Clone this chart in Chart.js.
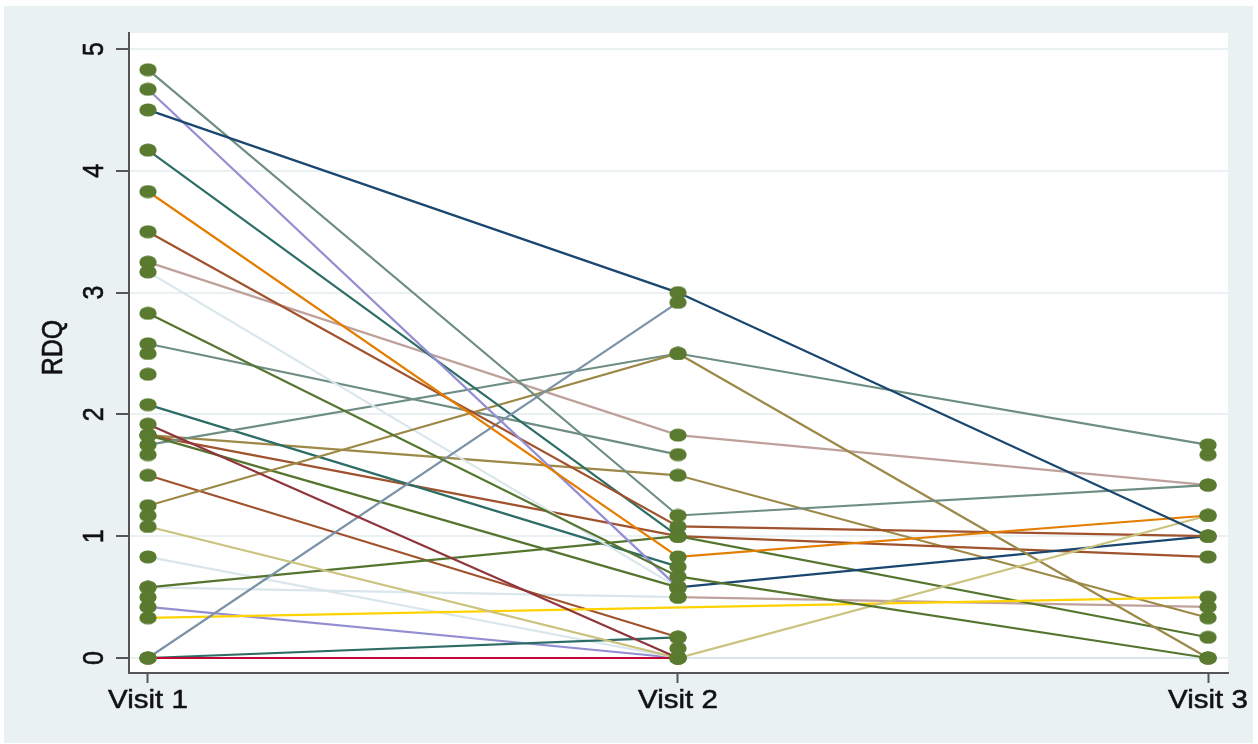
<!DOCTYPE html>
<html>
<head>
<meta charset="utf-8">
<title>RDQ by visit</title>
<script src="https://cdn.jsdelivr.net/npm/chart.js@4.4.1/dist/chart.umd.min.js"></script>
<style>
  html, body { margin: 0; padding: 0; background: #ffffff; }
  canvas { display: block; }
</style>
</head>
<body>
<canvas id="rdq" width="1258" height="744"></canvas>
<script>
// Axis text
const visitLabels = ['Visit 1', 'Visit 2', 'Visit 3'];
const yTickValues = [0, 1, 2, 3, 4, 5];
const yTitle = 'RDQ';

// RDQ score per participant at each visit (null = not recorded)
const visit1 = [4.50, 1.92, 2.83, 3.83, 4.83, 0.00, 4.67, 1.08, 3.50, 0.00, 4.17, 1.25, 3.25, 0.33, 3.17,
                null, 2.50, 0.58, 1.83, 2.58, 1.75, 2.08, 0.00, 1.83, 1.50, 1.83, 0.83, 0.58, 0.42, null,
                2.33, 1.67, 1.17, 0.50, null, null];
const visit2 = [3.00, 0.00, 0.67, 0.83, 1.17, 0.00, 0.58, 0.00, 1.08, 2.92, 1.00, 2.50, 1.83, null, 0.58,
                0.58, null, 1.00, 0.58, 1.67, 2.50, 0.75, 0.17, 1.00, 0.17, 1.50, 0.00, 0.50, 0.00, 0.50,
                null, null, null, null, 0.08, null];
const visit3 = [1.00, null, 0.00, 1.17, 1.42, null, null, 1.17, 1.00, null, null, 0.00, 1.42, 0.50, null,
                1.00, null, 0.17, null, null, 1.75, null, null, 0.83, null, 0.33, 0.00, null, null, 0.42,
                null, null, null, null, null, 1.67];

// Line colour of each participant
const lineColors = ['#1a476f', '#90353b', '#55752f', '#e37e00', '#6e8e84', '#c10534', '#938dd2', '#cac27e',
                    '#a0522d', '#7b92a8', '#2d6d66', '#9c8847', '#bfa19c', '#ffd200', '#d9e6eb',
                    '#1a476f', '#90353b', '#55752f', '#55752f', '#6e8e84', '#6e8e84', '#2d6d66', '#2d6d66',
                    '#a0522d', '#a0522d', '#9c8847', '#d9e6eb', '#d9e6eb', '#938dd2', '#bfa19c',
                    '#90353b', '#55752f', '#e37e00', '#6e8e84', '#c10534', '#938dd2'];

const visitColumns = [visit1, visit2, visit3];

// Marker: a filled green ellipse
const marker = document.createElement('canvas');
marker.width = 18; marker.height = 14;
(function () {
  const m = marker.getContext('2d');
  m.fillStyle = '#5a7a30';
  m.beginPath();
  m.ellipse(9, 7, 8.7, 6.6, 0, 0, Math.PI * 2);
  m.fill();
})();

// One line per participant
const lineSets = visit1.map((_, i) => ({
  type: 'line',
  data: visitColumns.map((col, k) => ({ x: k + 1, y: col[i] })),
  borderColor: lineColors[i],
  borderWidth: 2.2,
  pointRadius: 0,
  tension: 0,
  spanGaps: true,
  fill: false,
  order: 1
}));

// Every observed value as a marker, drawn above the lines
const markerPoints = [];
visitColumns.forEach((col, k) => col.forEach(v => { if (v !== null) markerPoints.push({ x: k + 1, y: v }); }));
const markerSet = {
  type: 'line',
  data: markerPoints,
  showLine: false,
  pointStyle: marker,
  pointRadius: 8,
  order: 0
};

const frame = {
  id: 'frame',
  beforeDraw(chart) {
    const ctx = chart.ctx, a = chart.chartArea;
    ctx.save();
    ctx.fillStyle = '#ffffff';
    ctx.fillRect(0, 0, chart.width, chart.height);
    ctx.fillStyle = '#eaf1f3';
    ctx.fillRect(4, 6, chart.width - 9, chart.height - 7);
    ctx.fillStyle = '#ffffff';
    ctx.fillRect(a.left, a.top, a.right - a.left, a.bottom - a.top);
    ctx.restore();
  }
};

const axisText = {
  id: 'axisText',
  afterDraw(chart) {
    const ctx = chart.ctx, xs = chart.scales.x, ys = chart.scales.y;
    const stretch = 1.18, cap = 18;
    ctx.save();
    ctx.fillStyle = '#111111';
    ctx.strokeStyle = '#111111';
    ctx.lineWidth = 0.5;
    ctx.font = '25px "Liberation Sans", Arial, sans-serif';
    ctx.textAlign = 'center';
    ctx.textBaseline = 'alphabetic';
    const put = (text, x, y) => { ctx.fillText(text, x, y); ctx.strokeText(text, x, y); };
    ys.ticks.forEach(t => {
      ctx.save();
      ctx.translate(ys.right - 36.5, ys.getPixelForValue(t.value));
      ctx.scale(stretch, 1);
      ctx.rotate(-Math.PI / 2);
      put(String(t.value), 0, cap / 2);
      ctx.restore();
    });
    ctx.save();
    ctx.translate(ys.left + 51.7, (ys.top + ys.bottom) / 2 - 5.5);
    ctx.scale(stretch, 1);
    ctx.rotate(-Math.PI / 2);
    put(yTitle, 0, cap / 2);
    ctx.restore();
    xs.ticks.forEach((t, i) => {
      ctx.save();
      ctx.translate(xs.getPixelForValue(t.value), xs.top + 35);
      ctx.scale(stretch, 1);
      put(visitLabels[i], 0, 0);
      ctx.restore();
    });
    ctx.restore();
  }
};

new Chart(document.getElementById('rdq'), {
  type: 'line',
  data: { datasets: [markerSet, ...lineSets] },
  options: {
    responsive: false,
    animation: false,
    events: [],
    layout: { padding: { left: 0, top: 33, right: 30, bottom: 0 } },
    plugins: { legend: { display: false }, tooltip: { enabled: false } },
    scales: {
      x: {
        type: 'linear',
        min: 0.9642,
        max: 3.0377,
        afterBuildTicks: s => { s.ticks = visitLabels.map((_, i) => ({ value: i + 1 })); },
        afterFit: s => { s.height = 71; },
        ticks: { display: false },
        grid: { display: true, drawOnChartArea: false, drawTicks: true, tickLength: 10, tickColor: '#555555', tickWidth: 2 },
        border: { display: true, color: '#555555', width: 2 }
      },
      y: {
        type: 'linear',
        min: -0.1232,
        max: 5.1314,
        afterBuildTicks: s => { s.ticks = yTickValues.map(v => ({ value: v })); },
        afterFit: s => { s.width = 129; },
        ticks: { display: false },
        grid: { display: true, color: '#eaf1f3', lineWidth: 2, drawTicks: true, tickLength: 13, tickColor: '#555555', tickWidth: 2 },
        border: { display: true, color: '#555555', width: 2 }
      }
    }
  },
  plugins: [frame, axisText]
});
</script>
</body>
</html>
